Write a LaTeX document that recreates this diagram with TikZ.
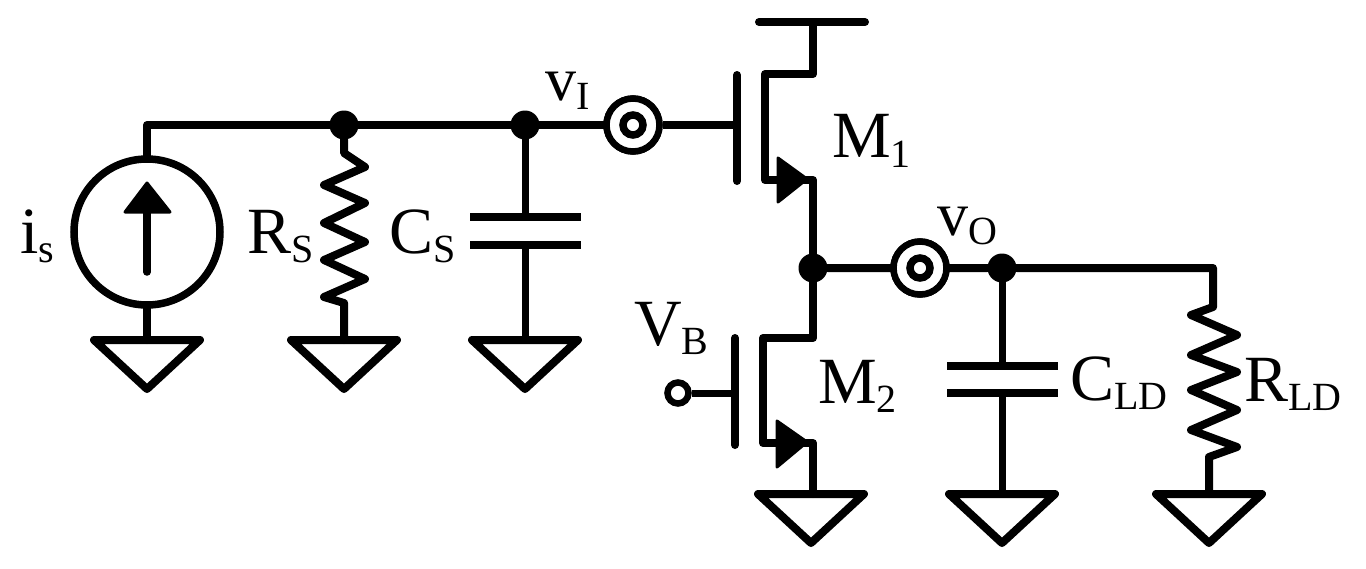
\documentclass[tikz,border=0pt]{standalone}
\usepackage{fontspec}
\setmainfont{Liberation Serif}
\newcommand{\lbl}[4]{{\fontsize{#1}{#1}\selectfont #2\raisebox{#4}{\fontsize{40}{40}\selectfont #3}}}
\tikzset{
  wire/.style={line width=8pt,line cap=round,line join=round,black},
  thinw/.style={line width=7pt,line cap=round,line join=round,black},
  dotj/.style={circle,fill=black,inner sep=0pt,minimum size=29pt},
  port/.style={circle,draw=black,fill=white,line width=6.5pt,inner sep=0pt,minimum size=53pt,
    path picture={\draw[black,line width=7.5pt] (path picture bounding box.center) circle (10pt);}},
  openterm/.style={circle,draw=black,fill=white,line width=6.5pt,inner sep=0pt,minimum size=21pt},
  source/.style={circle,draw=black,line width=7.5pt,inner sep=0pt,minimum size=146pt},
  lab/.style={anchor=base west,inner sep=0pt,text=black},
  gndsym/.pic={\draw[wire] (-53,0) -- (53,0) -- (0,49) -- cycle;}
}
\begin{document}
\begin{tikzpicture}[x=1pt,y=-1pt]
\useasboundingbox (0,0) rectangle (1366,568);
% coordinates
\coordinate (g1) at (147,340);
\coordinate (g2) at (344,340);
\coordinate (g3) at (525,340);
\coordinate (g4) at (811,494);
\coordinate (g4s) at (813,494);
\coordinate (g5) at (1002,494);
\coordinate (g6) at (1209,494);
\coordinate (c1) at (147,125);
\coordinate (m1g) at (737,125);
\coordinate (vddc) at (813,22);
\coordinate (vl) at (759,22);
\coordinate (vr) at (865,22);
\coordinate (m1dr) at (813,74);
\coordinate (m1d) at (765,74);
\coordinate (m1s) at (765,180);
\coordinate (m1sr) at (813,180);
\coordinate (m2dr) at (813,338);
\coordinate (m2d) at (763,338);
\coordinate (m2s) at (763,443);
\coordinate (m2sr) at (813,443);
\coordinate (m2g) at (735,393);
\coordinate (c2) at (1213,268);
% nodes
\node[source] (src) at (147,232) {};
\node[dotj] (n1) at (344,125) {};
\node[dotj] (n2) at (525,125) {};
\node[dotj] (n3) at (813,268) {};
\node[dotj] (n4) at (1002,268) {};
% wires
\draw[wire] (src.north) -- (c1) -- (n1) -- (n2);
\draw[wire] (src.south) -- (g1);
\draw[wire] (n3) -- (n4) -- (c2) -- (1213,307)
  -- (1191,315) -- (1237,335) -- (1191,355) -- (1237,372) -- (1191,390)
  -- (1237,410) -- (1191,430) -- (1237,447) -- (1209,457) -- (g6);
\draw[wire] (n1) -- (344,153) -- (365,167) -- (324,185) -- (365,203) -- (324,223)
  -- (365,242) -- (324,260) -- (365,279) -- (324,297) -- (344,303) -- (g2);
% CS
\draw[thinw] (n2) -- (525,217);
\draw[wire,line cap=butt] (470,217) -- (581,217);
\draw[wire,line cap=butt] (470,245) -- (581,245);
\draw[thinw] (525,245) -- (g3);
% CLD
\draw[thinw] (n4) -- (1002,366);
\draw[wire,line cap=butt] (947,366) -- (1058,366);
\draw[wire,line cap=butt] (947,393) -- (1058,393);
\draw[thinw] (1002,393) -- (g5);
% input / gate
\node[port] (p1) at (633,125) {};
\node[port] (p2) at (920,268) {};
\draw[wire] (n2) -- (p1);
\draw[wire,line cap=butt] (p1) -- (m1g);
\draw[wire,line cap=butt] (n3) -- (p2);
\draw[wire,line cap=butt] (p2) -- (n4);
\node[port] at (p1) {};
\node[port] at (p2) {};
% M1
\draw[wire] (vl) -- (vr);
\draw[wire] (vddc) -- (m1dr) -- (m1d) -- (m1s) -- (m1sr) -- (n3);
\draw[wire] (737,75) -- (737,181);
\fill[black,draw=black,line width=3pt,line join=round] (778,158) -- (807,179) -- (778,202) -- cycle;
% M2
\draw[wire] (n3) -- (m2dr) -- (m2d) -- (m2s) -- (m2sr) -- (g4s);
\draw[wire] (735,338) -- (735,445);
\fill[black,draw=black,line width=3pt,line join=round] (777,421) -- (807,442) -- (777,467) -- cycle;
\node[openterm] (vb) at (678,393) {};
\draw[thinw,line cap=butt] (vb) -- (m2g);
% arrow in source
\draw[line width=7.5pt,line cap=round,black] (147,272) -- (147,212);
\fill[black,draw=black,line width=3pt,line join=round] (147,183) -- (170,212) -- (125,212) -- cycle;
% grounds
\pic at (g1) {gndsym};
\pic at (g2) {gndsym};
\pic at (g3) {gndsym};
\pic at (g4) {gndsym};
\pic at (g5) {gndsym};
\pic at (g6) {gndsym};
% labels
\node[lab] (t1) at (20,253) {\lbl{66}{i}{s}{-9pt}};
\node[lab] (t2) at (247,253) {\lbl{66}{R}{S}{-9pt}};
\node[lab] (t3) at (389,253) {\lbl{66}{C}{S}{-9pt}};
\node[lab] (t4) at (545,100) {\lbl{62}{v}{I}{-9pt}};
\node[lab] (t5) at (832,157) {\lbl{66}{M}{1}{-10pt}};
\node[lab] (t6) at (937,235) {\lbl{62}{v}{O}{-9pt}};
\node[lab] (t7) at (634,345) {\lbl{66}{V}{B}{-9pt}};
\node[lab] (t8) at (818,403) {\lbl{66}{M}{2}{-9pt}};
\node[lab] (t9) at (1070,400) {\lbl{66}{C}{LD}{-9pt}};
\node[lab] (t10) at (1244,401) {\lbl{66}{R}{LD}{-9pt}};
\end{tikzpicture}
\end{document}
